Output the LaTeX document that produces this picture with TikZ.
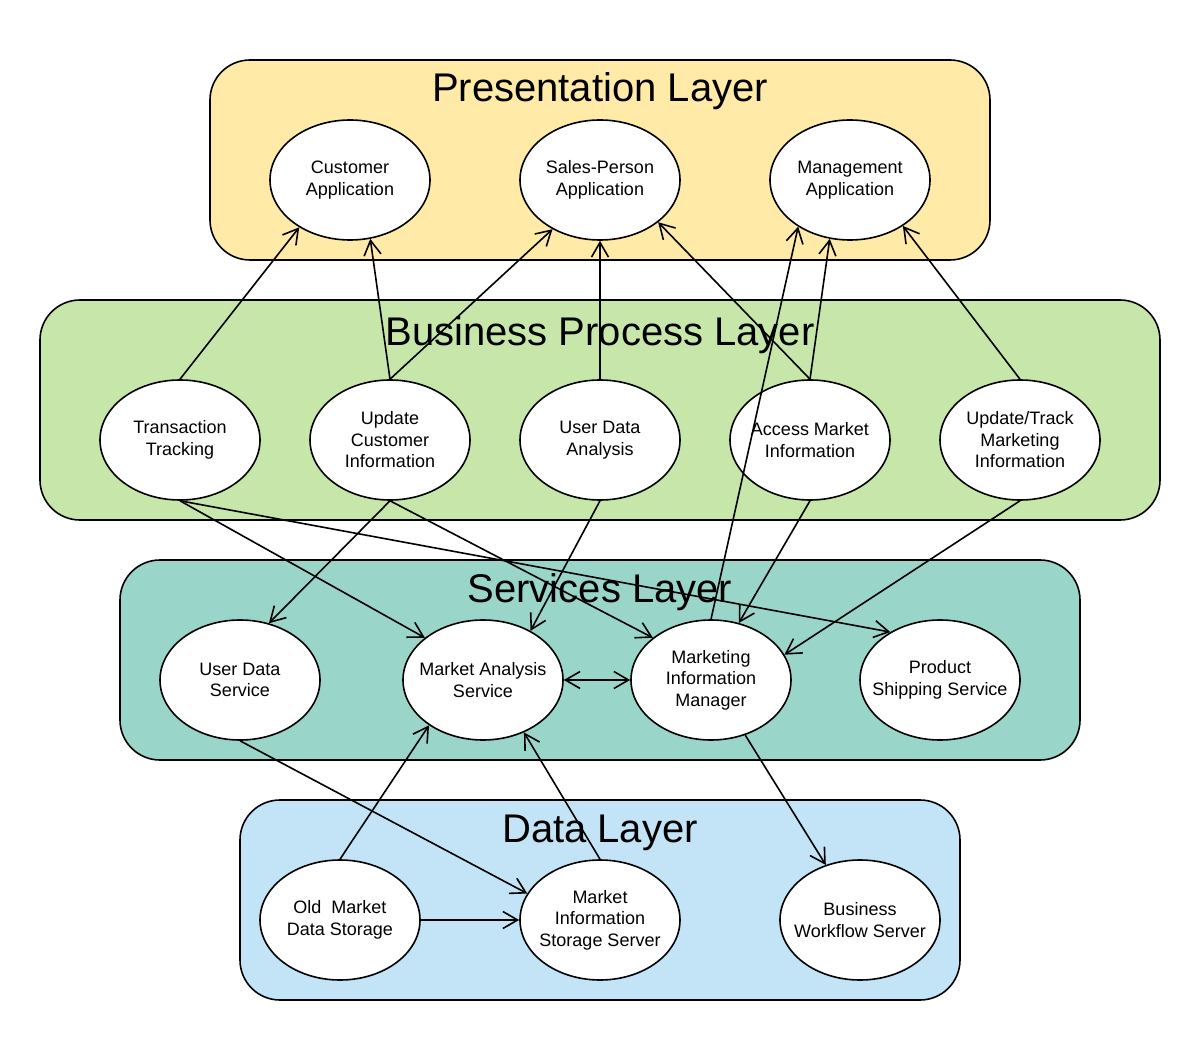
\documentclass[tikz,border=0pt]{standalone}
\usepackage{fontspec}
\setmainfont{Liberation Sans}
\usepackage{tikz}
\usetikzlibrary{shapes.geometric,arrows.meta}

\definecolor{presfill}{HTML}{FFEAA7}
\definecolor{busfill}{HTML}{C7E6A9}
\definecolor{servfill}{HTML}{9AD5CA}
\definecolor{datafill}{HTML}{C2E4F6}

\tikzset{
  layerbox/.style={fill=#1, draw=black, line width=1.6pt, rounded corners=40pt},
  layertitle/.style={anchor=base, font=\fontsize{40}{48}\selectfont},
  proc/.style={ellipse, draw=black, fill=white, line width=1.6pt,
    minimum width=160pt, minimum height=120pt, inner xsep=-20pt, inner ysep=0pt,
    align=center, font=\fontsize{18}{21.5}\selectfont},
  link/.style={-{Straight Barb[angle=60:17pt]}, line width=1.6pt},
  duallink/.style={{Straight Barb[angle=60:17pt]}-{Straight Barb[angle=60:17pt]}, line width=1.6pt}
}

\begin{document}
\begin{tikzpicture}[x=1pt, y=-1pt]
                \useasboundingbox (0,0) rectangle (1200,1040);

                \filldraw[layerbox=presfill] (210,60) rectangle (990,260);
                \filldraw[layerbox=busfill] (40,300) rectangle (1160,520);
                \filldraw[layerbox=servfill] (120,560) rectangle (1080,760);
                \filldraw[layerbox=datafill] (240,800) rectangle (960,1000);

                \node[layertitle] (prestitle) at (600,102) {Presentation Layer};
                \node[layertitle] (bustitle) at (600,346) {Business Process Layer};
                \node[layertitle] (servtitle) at (600,602) {Services Layer};
                \node[layertitle] (datatitle) at (600,842) {Data Layer};

                \node[proc] (custapp) at (350,180) {Customer\\Application};
                \node[proc] (salesapp) at (600,180) {Sales-Person\\Application};
                \node[proc] (mgmtapp) at (850,180) {Management\\Application};

                \node[proc] (transtrack) at (180,440) {Transaction\\Tracking};
                \node[proc] (updcust) at (390,440) {Update\\Customer\\Information};
                \node[proc] (userana) at (600,440) {User Data\\Analysis};
                \node[proc] (accmarket) at (810,440) {Access Market\\Information};
                \node[proc] (updmarket) at (1020,440) {Update/Track\\Marketing\\Information};

                \node[proc] (userserv) at (240,680) {User Data\\Service};
                \node[proc] (marketserv) at (483,680) {Market Analysis\\Service};
                \node[proc] (marketmgr) at (711,680) {Marketing\\Information\\Manager};
                \node[proc] (shipserv) at (940,680) {Product\\Shipping Service};

                \node[proc] (oldstore) at (340,920) {Old\ \ Market\\Data Storage};
                \node[proc] (marketstore) at (600,920) {Market\\Information\\Storage Server};
                \node[proc] (workflow) at (860,920) {Business\\Workflow Server};

                % up to the presentation layer
                \draw[link] (transtrack.north) -- (custapp.223);
                \draw[link] (updcust.north) -- (custapp.289);
                \draw[link] (updcust.north) -- (salesapp.226);
                \draw[link] (userana.north) -- (salesapp.south);
                \draw[link] (accmarket.north) -- (salesapp.324);
                \draw[link] (accmarket.north) -- (mgmtapp.251);
                \draw[link] (marketmgr.north) -- (mgmtapp.222);
                \draw[link] (updmarket.north) -- (mgmtapp.319);

                % down to the services layer
                \draw[link] (transtrack.south) -- (marketserv.144);
                \draw[link] (transtrack.south) -- (shipserv.136);
                \draw[link] (updcust.south) -- (userserv.63);
                \draw[link] (updcust.south) -- (marketmgr.144);
                \draw[link] (userana.south) -- (marketserv.46);
                \draw[link] (accmarket.south) -- (marketmgr.64);
                \draw[link] (updmarket.south) -- (marketmgr.19);
                \draw[duallink] (marketserv.east) -- (marketmgr.west);

                % data layer
                \draw[link] (userserv.south) -- (marketstore.160);
                \draw[link] (oldstore.north) -- (marketserv.220);
                \draw[link] (marketstore.north) -- (marketserv.308);
                \draw[link] (oldstore.east) -- (marketstore.west);
                \draw[link] (marketmgr) -- (workflow);
            \end{tikzpicture}
\end{document}
